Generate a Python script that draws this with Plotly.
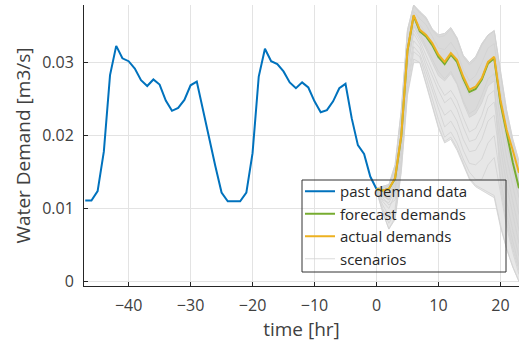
import plotly.graph_objects as go

# ---------------- data ----------------
t_past = list(range(-47, 1))
past_demand = [0.0111, 0.0111, 0.0124, 0.0178, 0.0283, 0.0323, 0.0306, 0.0302, 0.0292, 0.0276,
               0.0268, 0.0277, 0.0270, 0.0248, 0.0234, 0.0238, 0.0249, 0.0269, 0.0274, 0.0234,
               0.0196, 0.0158, 0.0122, 0.0110, 0.0110, 0.0110, 0.0122, 0.0176, 0.0281, 0.0319,
               0.0302, 0.0298, 0.0288, 0.0273, 0.0265, 0.0273, 0.0266, 0.0247, 0.0232, 0.0235,
               0.0247, 0.0265, 0.0271, 0.0224, 0.0187, 0.0175, 0.0144, 0.0127]

t_future = list(range(0, 24))
actual_demand = [0.0127, 0.0125, 0.0127, 0.0142, 0.0200, 0.0317, 0.0365, 0.0345, 0.0338, 0.0327,
                 0.0311, 0.0301, 0.0313, 0.0304, 0.0281, 0.0263, 0.0267, 0.0279, 0.0301, 0.0308,
                 0.0249, 0.0208, 0.0180, 0.0149]
forecast_demand = [0.0127, 0.0125, 0.0127, 0.0141, 0.0199, 0.0316, 0.0364, 0.0343, 0.0336, 0.0324,
                   0.0308, 0.0298, 0.0311, 0.0301, 0.0278, 0.0260, 0.0264, 0.0277, 0.0299, 0.0306,
                   0.0245, 0.0203, 0.0163, 0.0128]

# scenario envelope (outer band) and dense core
scen_upper = [0.0128, 0.0130, 0.0133, 0.0160, 0.0235, 0.0345, 0.0379, 0.0370, 0.0362, 0.0346,
              0.0338, 0.0340, 0.0348, 0.0334, 0.0310, 0.0300, 0.0308, 0.0326, 0.0338, 0.0344,
              0.0288, 0.0235, 0.0195, 0.0165]
scen_lower = [0.0125, 0.0095, 0.0072, 0.0085, 0.0150, 0.0255, 0.0300, 0.0300, 0.0270, 0.0240,
              0.0210, 0.0190, 0.0195, 0.0180, 0.0160, 0.0140, 0.0130, 0.0125, 0.0120, 0.0115,
              0.0075, 0.0045, 0.0020, 0.0000]
scen_core_lower = [0.0126, 0.0118, 0.0112, 0.0130, 0.0190, 0.0300, 0.0350, 0.0335, 0.0318, 0.0300,
                   0.0282, 0.0275, 0.0285, 0.0270, 0.0245, 0.0225, 0.0230, 0.0245, 0.0268, 0.0275,
                   0.0130, 0.0080, 0.0045, 0.0015]

scenario_1 = [0.0128, 0.0128, 0.0131, 0.0155, 0.0230, 0.0342, 0.0378, 0.0368, 0.0360, 0.0344, 0.0335, 0.0337,
              0.0346, 0.0332, 0.0308, 0.0297, 0.0305, 0.0324, 0.0337, 0.0343, 0.0285, 0.0230, 0.0190, 0.0160]
scenario_2 = [0.0127, 0.0122, 0.0120, 0.0135, 0.0190, 0.0310, 0.0360, 0.0352, 0.0340, 0.0322, 0.0305, 0.0300,
              0.0312, 0.0298, 0.0272, 0.0255, 0.0262, 0.0280, 0.0300, 0.0306, 0.0240, 0.0190, 0.0150, 0.0115]
scenario_3 = [0.0126, 0.0110, 0.0100, 0.0120, 0.0180, 0.0290, 0.0345, 0.0330, 0.0310, 0.0290, 0.0270, 0.0255,
              0.0262, 0.0248, 0.0225, 0.0205, 0.0210, 0.0228, 0.0255, 0.0262, 0.0200, 0.0150, 0.0110, 0.0070]
scenario_4 = [0.0125, 0.0100, 0.0080, 0.0095, 0.0160, 0.0265, 0.0315, 0.0308, 0.0280, 0.0250, 0.0222, 0.0198,
              0.0205, 0.0190, 0.0168, 0.0150, 0.0140, 0.0140, 0.0160, 0.0170, 0.0120, 0.0075, 0.0040, 0.0010]
scenario_5 = [0.0126, 0.0115, 0.0105, 0.0112, 0.0170, 0.0280, 0.0330, 0.0320, 0.0295, 0.0270, 0.0245, 0.0228,
              0.0235, 0.0220, 0.0195, 0.0178, 0.0180, 0.0195, 0.0220, 0.0228, 0.0165, 0.0110, 0.0070, 0.0035]
scenario_6 = [0.0127, 0.0125, 0.0126, 0.0145, 0.0205, 0.0325, 0.0370, 0.0360, 0.0352, 0.0335, 0.0320, 0.0318,
              0.0328, 0.0315, 0.0290, 0.0275, 0.0282, 0.0300, 0.0320, 0.0326, 0.0262, 0.0210, 0.0170, 0.0135]
scenario_7 = [0.0125, 0.0095, 0.0072, 0.0088, 0.0152, 0.0258, 0.0305, 0.0300, 0.0272, 0.0243, 0.0212, 0.0192,
              0.0198, 0.0183, 0.0162, 0.0142, 0.0132, 0.0127, 0.0122, 0.0118, 0.0078, 0.0045, 0.0020, 0.0000]
scenario_8 = [0.0126, 0.0118, 0.0112, 0.0128, 0.0185, 0.0300, 0.0352, 0.0340, 0.0322, 0.0305, 0.0288, 0.0278,
              0.0288, 0.0272, 0.0248, 0.0230, 0.0236, 0.0255, 0.0278, 0.0285, 0.0220, 0.0170, 0.0130, 0.0092]
scenario_9 = [0.0125, 0.0105, 0.0090, 0.0100, 0.0165, 0.0272, 0.0322, 0.0312, 0.0288, 0.0262, 0.0235, 0.0212,
              0.0220, 0.0205, 0.0180, 0.0162, 0.0160, 0.0168, 0.0190, 0.0200, 0.0142, 0.0092, 0.0055, 0.0022]
scenario_10 = [0.0126, 0.0112, 0.0108, 0.0125, 0.0182, 0.0295, 0.0340, 0.0325, 0.0302, 0.0282, 0.0262, 0.0245,
               0.0252, 0.0236, 0.0212, 0.0192, 0.0195, 0.0212, 0.0238, 0.0246, 0.0185, 0.0132, 0.0090, 0.0052]
scenarios = [scenario_1, scenario_2, scenario_3, scenario_4, scenario_5, scenario_6, scenario_7,
             scenario_8, scenario_9, scenario_10]

x_ticks = [-40, -30, -20, -10, 0, 10, 20]
y_ticks = [0, 0.01, 0.02, 0.03]
y_tick_labels = ["0", "0.01", "0.02", "0.03"]

# ---------------- colours ----------------
BLUE = "#0072BD"
GREEN = "#77AC30"
ORANGE = "#EDB120"
GRAY_LINE = "#d2d2d2"
GRAY_BAND = "#e7e7e7"
GRAY_CORE = "#dadada"
TXT = "#262626"
FONT = "Open Sans"

fig = go.Figure()

# outer scenario band
fig.add_trace(go.Scatter(x=t_future, y=scen_lower, mode="lines", line=dict(color=GRAY_LINE, width=0.8),
                         showlegend=False, hoverinfo="skip"))
fig.add_trace(go.Scatter(x=t_future, y=scen_upper, mode="lines", line=dict(color=GRAY_LINE, width=0.8),
                         fill="tonexty", fillcolor=GRAY_BAND, showlegend=False, hoverinfo="skip"))
# dense core
fig.add_trace(go.Scatter(x=t_future, y=scen_core_lower, mode="lines", line=dict(color=GRAY_LINE, width=0.8),
                         showlegend=False, hoverinfo="skip"))
fig.add_trace(go.Scatter(x=t_future, y=scen_upper, mode="lines", line=dict(color=GRAY_LINE, width=0.8),
                         fill="tonexty", fillcolor=GRAY_CORE, showlegend=False, hoverinfo="skip"))
# individual scenario lines
for i, s in enumerate(scenarios):
    fig.add_trace(go.Scatter(x=t_future, y=s, mode="lines", line=dict(color=GRAY_LINE, width=0.8),
                             name="scenarios", showlegend=(i == 0), legendrank=4, hoverinfo="skip"))

fig.add_trace(go.Scatter(x=t_past, y=past_demand, mode="lines", line=dict(color=BLUE, width=2),
                         name="past demand data", legendrank=1))
fig.add_trace(go.Scatter(x=t_future, y=forecast_demand, mode="lines", line=dict(color=GREEN, width=2),
                         name="forecast demands", legendrank=2))
fig.add_trace(go.Scatter(x=t_future, y=actual_demand, mode="lines", line=dict(color=ORANGE, width=2),
                         name="actual demands", legendrank=3))

# legend frame
fig.add_shape(type="rect", xref="paper", yref="paper",
              x0=(302 - 84) / 435, x1=(506 - 84) / 435,
              y0=(286 - 272) / 281, y1=(286 - 180) / 281,
              line=dict(color="#333333", width=1), fillcolor="rgba(0,0,0,0)", layer="above")

fig.update_layout(
    width=523, height=344,
    margin=dict(l=84, r=4, t=5, b=58),
    plot_bgcolor="white", paper_bgcolor="white",
    font=dict(family=FONT, size=15, color=TXT),
    showlegend=True,
    legend=dict(x=(300 - 84) / 435, y=(286 - 175) / 281, xanchor="left", yanchor="top",
                bgcolor="rgba(0,0,0,0)", borderwidth=0, font=dict(family=FONT, size=15, color=TXT),
                traceorder="normal", tracegroupgap=0, itemwidth=30),
)
fig.update_xaxes(range=[-47.2, 23], tickvals=x_ticks, ticks="inside", ticklen=4, tickcolor=TXT,
                 showline=True, linecolor=TXT, linewidth=1, showgrid=True, gridcolor="#e3e3e3",
                 gridwidth=1, zeroline=False, mirror=False, ticklabelstandoff=5,
                 tickfont=dict(size=16, color="#404040"),
                 title=dict(text="time [hr]", font=dict(size=19, color="#404040"), standoff=3))
fig.update_yaxes(range=[-0.0006, 0.0379], tickvals=y_ticks, ticktext=y_tick_labels, ticks="inside",
                 ticklen=4, tickcolor=TXT, showline=True, linecolor=TXT, linewidth=1, showgrid=True,
                 gridcolor="#e3e3e3", gridwidth=1, zeroline=False, mirror=False, ticklabelstandoff=6,
                 tickfont=dict(size=16, color="#404040"),
                 title=dict(text="Water Demand [m3/s]", font=dict(size=19, color="#404040"), standoff=6))

fig.write_html("out.html", config={"displayModeBar": False},
               post_script="document.body.style.margin='0';document.body.style.padding='0';"
                           "document.documentElement.style.overflow='hidden';")
